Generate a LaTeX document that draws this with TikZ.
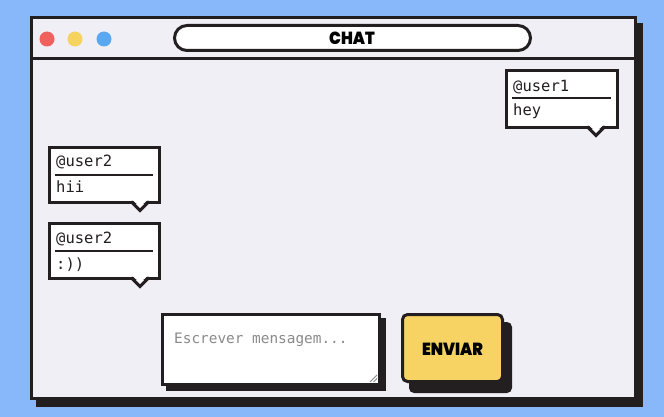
\documentclass[tikz,border=0pt]{standalone}
\usepackage{fontspec}
\setmonofont{DejaVu Sans Mono}
\newfontfamily\dispfont{Poppins}[UprightFont={* ExtraBold}, BoldFont={* Black}]
\definecolor{skyblue}{HTML}{88B8FA}
\definecolor{winbg}{HTML}{F0EFF5}
\definecolor{ink}{HTML}{231F20}
\definecolor{dotred}{HTML}{F0605D}
\definecolor{dotyellow}{HTML}{F6D25E}
\definecolor{dotblue}{HTML}{5AA8F0}
\definecolor{btnyellow}{HTML}{F6D363}
\definecolor{placeholder}{HTML}{8A8A8A}
\tikzset{
  bd/.style={draw=ink, line width=3pt},
  bubblebox/.style={bd, fill=white},
  sepline/.style={draw=ink, line width=2pt},
  msgtext/.style={inner sep=0pt, anchor=base west, font=\ttfamily\fontsize{15.5}{18}\selectfont, text=ink},
  disptext/.style={inner sep=0pt, xscale=0.9, font=\dispfont\bfseries\fontsize{17.5}{20}\selectfont, text=black},
  dotstyle/.style={circle, inner sep=0pt, minimum size=15pt},
}
\begin{document}
\begin{tikzpicture}[x=1pt,y=-1pt]
\useasboundingbox (0,0) rectangle (664,417);
\fill[skyblue] (0,0) rectangle (664,417);
% window
\fill[ink] (36,23) rectangle (643,407);
\draw[bd, fill=winbg] (31.5,17.5) rectangle (635.5,398.5);
\draw[bd] (31.5,59) -- (635.5,59);
% dots
\node[dotstyle, fill=dotred] (d1) at (47,39) {};
\node[dotstyle, fill=dotyellow] (d2) at (75,39) {};
\node[dotstyle, fill=dotblue] (d3) at (104,39) {};
% title pill
\draw[bd, fill=white, rounded corners=12.5pt] (174.5,25.5) rectangle (530.5,50.5);
\node[disptext] (title) at (352,38.5) {CHAT};
% bubble user1
\draw[bubblebox] (506.5,70.5) rectangle (617.5,127.5);
\fill[white] (588,124.5) -- (604,124.5) -- (596,132) -- cycle;
\draw[bd] (587,126.5) -- (596,135.5) -- (605,126.5);
\draw[sepline] (512,98.5) -- (611,98.5);
\node[msgtext] (u1name) at (513,92) {@user1};
\node[msgtext] (u1msg) at (513,116) {hey};
% bubble user2 a
\draw[bubblebox] (49.5,147.5) rectangle (159.5,202.5);
\fill[white] (132,199.5) -- (148,199.5) -- (140,207) -- cycle;
\draw[bd] (131,201.5) -- (140,210.5) -- (149,201.5);
\draw[sepline] (55,174.5) -- (153,174.5);
\node[msgtext] (u2name) at (56,167) {@user2};
\node[msgtext] (u2msg) at (56,193) {hii};
% bubble user2 b
\draw[bubblebox] (49.5,223.5) rectangle (159.5,278.5);
\fill[white] (132,275.5) -- (148,275.5) -- (140,283) -- cycle;
\draw[bd] (131,277.5) -- (140,286.5) -- (149,277.5);
\draw[sepline] (55,251) -- (153,251);
\node[msgtext] (u2bname) at (56,243) {@user2};
\node[msgtext] (u2bmsg) at (56,269) {:))};
% textarea
\fill[ink] (166,318) rectangle (386,391);
\draw[bd, fill=white] (162.5,314.5) rectangle (379.5,384.5);
\node[inner sep=0pt, anchor=base west, font=\ttfamily\fontsize{14.4}{17}\selectfont, text=placeholder] (ph) at (174,343) {Escrever mensagem...};
\draw[placeholder, line width=0.8pt] (370,382) -- (377,375) (373.5,382) -- (377,378.5);
% button
\fill[ink, rounded corners=5pt] (409,322) rectangle (512,393);
\draw[bd, fill=btnyellow, rounded corners=5pt] (402.5,314.5) rectangle (502.5,381.5);
\node[disptext] (send) at (452.5,349) {ENVIAR};
\end{tikzpicture}
\end{document}
